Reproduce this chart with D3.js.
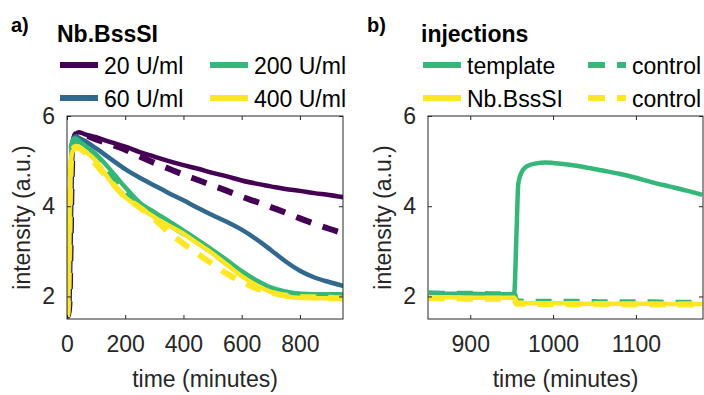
<!DOCTYPE html>
<html>
<head>
<meta charset="utf-8">
<script src="https://cdn.jsdelivr.net/npm/d3@7"></script>
<style>
  body { margin: 0; background: #fff; }
  svg { display: block; font-family: "Liberation Sans", Arial, Helvetica, sans-serif; }
</style>
</head>
<body>
<div class="chart"></div>
<script>
// panel a: time after Nb.BssSI injection
var timeA = [0, 4, 8, 12, 16, 20, 25, 30, 40, 60, 100, 150, 200, 250, 300, 350, 400, 450, 500, 550, 600, 650, 700, 750, 800, 850, 900, 950];
var u20 = [1.55, 1.6, 1.8, 3.0, 4.6, 5.3, 5.52, 5.6, 5.64, 5.6, 5.53, 5.42, 5.32, 5.2, 5.1, 5.0, 4.91, 4.83, 4.74, 4.66, 4.57, 4.5, 4.44, 4.38, 4.34, 4.29, 4.25, 4.2];
var u20fit = [1.55, 1.6, 1.8, 3.0, 4.6, 5.3, 5.52, 5.6, 5.62, 5.58, 5.48, 5.37, 5.25, 5.1, 4.96, 4.83, 4.7, 4.58, 4.46, 4.34, 4.21, 4.1, 3.98, 3.86, 3.73, 3.61, 3.5, 3.4];
var u60 = [1.55, 1.7, 2.6, 4.3, 5.2, 5.45, 5.53, 5.55, 5.52, 5.45, 5.28, 5.05, 4.82, 4.63, 4.46, 4.29, 4.13, 3.96, 3.8, 3.65, 3.48, 3.27, 3.03, 2.78, 2.57, 2.42, 2.32, 2.23];
var u200 = [1.55, 1.8, 3.0, 4.6, 5.3, 5.45, 5.5, 5.5, 5.45, 5.35, 5.15, 4.8, 4.42, 4.08, 3.87, 3.67, 3.46, 3.25, 3.03, 2.8, 2.56, 2.36, 2.2, 2.11, 2.06, 2.05, 2.05, 2.05];
var u200fit = [1.55, 1.8, 3.0, 4.6, 5.3, 5.42, 5.46, 5.46, 5.4, 5.3, 5.1, 4.72, 4.33, 4.0, 3.8, 3.6, 3.4, 3.2, 2.97, 2.73, 2.5, 2.3, 2.16, 2.08, 2.04, 2.03, 2.03, 2.04];
var u400 = [1.55, 2.0, 3.6, 4.8, 5.15, 5.22, 5.26, 5.28, 5.28, 5.22, 5.0, 4.55, 4.2, 3.97, 3.76, 3.57, 3.39, 3.17, 2.95, 2.7, 2.45, 2.25, 2.1, 2.0, 1.97, 1.96, 1.96, 1.95];
var u400fit = [1.55, 2.0, 3.6, 4.8, 5.15, 5.25, 5.3, 5.32, 5.3, 5.2, 4.92, 4.55, 4.2, 3.97, 3.72, 3.42, 3.17, 2.94, 2.72, 2.5, 2.33, 2.18, 2.09, 2.02, 1.99, 1.98, 1.97, 1.95];

// panel b: second injection
var timeB = [850, 875, 900, 925, 950, 953, 956, 958, 962, 966, 970, 980, 990, 1000, 1020, 1040, 1060, 1080, 1100, 1120, 1140, 1160, 1180];
var template = [2.07, 2.06, 2.06, 2.05, 2.05, 2.05, 3.5, 4.5, 4.75, 4.85, 4.9, 4.95, 4.97, 4.96, 4.92, 4.86, 4.79, 4.72, 4.63, 4.53, 4.44, 4.35, 4.25];
var templateCtrl = [2.07, 2.06, 2.06, 2.05, 2.05, 2.05, 1.89, 1.89, 1.89, 1.89, 1.89, 1.88, 1.88, 1.88, 1.88, 1.88, 1.87, 1.87, 1.87, 1.87, 1.86, 1.86, 1.86];
var nbInj = [1.98, 1.98, 1.97, 1.97, 1.97, 1.97, 1.86, 1.86, 1.86, 1.85, 1.85, 1.85, 1.85, 1.85, 1.85, 1.84, 1.84, 1.84, 1.84, 1.84, 1.83, 1.83, 1.83];
var nbCtrl = [1.96, 1.96, 1.95, 1.95, 1.95, 1.95, 1.84, 1.84, 1.84, 1.84, 1.84, 1.83, 1.83, 1.83, 1.83, 1.83, 1.83, 1.82, 1.82, 1.82, 1.82, 1.82, 1.82];

var yTicks = [2, 4, 6];
var xTicksA = [0, 200, 400, 600, 800];
var xTicksB = [900, 1000, 1100];

var purple = "#440154", blue = "#31688e", green = "#35b779", yellow = "#fde725";
var axisColor = "#262626";

var svg = d3.select(".chart").append("svg")
  .attr("width", 704)
  .attr("height", 395);

function drawPanel(p) {
  var x = d3.scaleLinear().domain(p.xDomain).range([p.left, p.right]);
  var y = d3.scaleLinear().domain([1.5, 6]).range([p.bottom, p.top]);
  var g = svg.append("g");

  // clip lines to the axes box
  g.append("clipPath").attr("id", p.id + "-clip")
    .append("rect")
    .attr("x", p.left).attr("y", p.top)
    .attr("width", p.right - p.left).attr("height", p.bottom - p.top);

  var line = d3.line()
    .x(function(d) { return x(d[0]); })
    .y(function(d) { return y(d[1]); })
    .curve(d3.curveMonotoneX);

  var lines = g.append("g").attr("clip-path", "url(#" + p.id + "-clip)");
  p.series.forEach(function(s) {
    lines.append("path")
      .datum(p.time.map(function(t, i) { return [t, s.values[i]]; }))
      .attr("fill", "none")
      .attr("stroke", s.color)
      .attr("stroke-width", s.dash ? 6 : 4.5)
      .attr("stroke-dasharray", s.dash ? "16,12" : null)
      .attr("stroke-linejoin", "round")
      .attr("d", line);
  });

  // box with inward ticks on all sides
  var tl = 4, fmt = d3.format("d");
  var axes = [
    [d3.axisBottom(x).tickValues(p.xTicks).tickSize(-tl).tickPadding(17).tickFormat(fmt), "translate(0," + p.bottom + ")"],
    [d3.axisTop(x).tickValues(p.xTicks).tickSize(-tl).tickFormat(""), "translate(0," + p.top + ")"],
    [d3.axisLeft(y).tickValues(yTicks).tickSize(-tl).tickPadding(12).tickFormat(fmt), "translate(" + p.left + ",0)"],
    [d3.axisRight(y).tickValues(yTicks).tickSize(-tl).tickFormat(""), "translate(" + p.right + ",0)"]
  ];
  axes.forEach(function(a) {
    var ax = g.append("g").attr("transform", a[1]).call(a[0]);
    ax.selectAll(".tick line").attr("stroke", axisColor);
    ax.selectAll("text").attr("fill", axisColor).style("font-size", "23px")
      .style("font-family", "'Liberation Sans', Arial, sans-serif");
  });
  g.selectAll(".domain").remove();
  g.append("rect")
    .attr("x", p.left).attr("y", p.top)
    .attr("width", p.right - p.left).attr("height", p.bottom - p.top)
    .attr("fill", "none").attr("stroke", axisColor).attr("stroke-width", 1);

  g.append("text")
    .attr("x", (p.left + p.right) / 2).attr("y", 387)
    .attr("text-anchor", "middle").attr("fill", axisColor)
    .style("font-size", "23px")
    .text("time (minutes)");
  g.append("text")
    .attr("transform", "translate(" + (p.left - 37) + "," + ((p.top + p.bottom) / 2) + ") rotate(-90)")
    .attr("text-anchor", "middle").attr("fill", axisColor)
    .style("font-size", "23px")
    .text("intensity (a.u.)");

  // panel letter and legend
  g.append("text").attr("x", p.letterX).attr("y", 32)
    .style("font-size", "20px").style("font-weight", "bold")
    .text(p.letter);
  g.append("text").attr("x", p.titleX).attr("y", 42)
    .style("font-size", "23px").style("font-weight", "bold")
    .text(p.title);

  p.legend.forEach(function(l, i) {
    var col = i % 2, row = Math.floor(i / 2);
    var lx = p.legendX[col], ly = 65 + row * 33;
    g.append("line")
      .attr("x1", lx).attr("x2", lx + 38)
      .attr("y1", ly).attr("y2", ly)
      .attr("stroke", l.color).attr("stroke-width", 6)
      .attr("stroke-dasharray", l.dash ? "17,12" : null);
    g.append("text")
      .attr("x", lx + 44).attr("y", ly + 9)
      .style("font-size", "23px")
      .text(l.label);
  });
}

drawPanel({
  id: "a", left: 67, right: 343, top: 116, bottom: 319,
  xDomain: [0, 948], xTicks: xTicksA, time: timeA,
  letter: "a)", letterX: 11, title: "Nb.BssSI", titleX: 57,
  legendX: [60, 210],
  series: [
    { values: u20, color: purple },
    { values: u20fit, color: purple, dash: true },
    { values: u60, color: blue },
    { values: u200, color: green },
    { values: u200fit, color: green, dash: true },
    { values: u400, color: yellow },
    { values: u400fit, color: yellow, dash: true }
  ],
  legend: [
    { label: "20 U/ml", color: purple },
    { label: "200 U/ml", color: green },
    { label: "60 U/ml", color: blue },
    { label: "400 U/ml", color: yellow }
  ]
});

drawPanel({
  id: "b", left: 428, right: 703, top: 116, bottom: 319,
  xDomain: [849, 1181], xTicks: xTicksB, time: timeB,
  letter: "b)", letterX: 367, title: "injections", titleX: 421,
  legendX: [423, 588],
  series: [
    { values: template, color: green },
    { values: templateCtrl, color: green, dash: true },
    { values: nbInj, color: yellow },
    { values: nbCtrl, color: yellow, dash: true }
  ],
  legend: [
    { label: "template", color: green },
    { label: "control", color: green, dash: true },
    { label: "Nb.BssSI", color: yellow },
    { label: "control", color: yellow, dash: true }
  ]
});
</script>
</body>
</html>
